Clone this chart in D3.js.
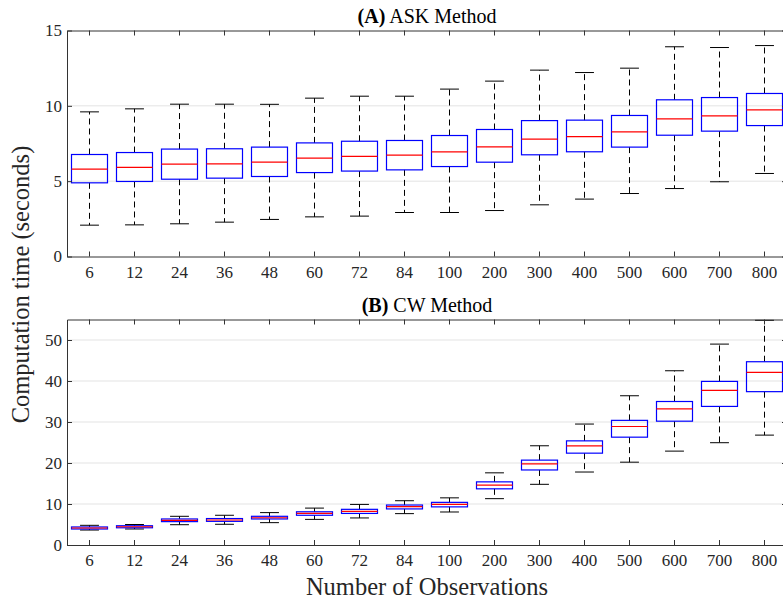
<!DOCTYPE html>
<html>
<head>
<meta charset="utf-8">
<script src="https://cdn.jsdelivr.net/npm/d3@7"></script>
<style>
  body { margin: 0; background: #fff; }
  svg { display: block; font-family: "Liberation Serif", "Times New Roman", serif; }
</style>
</head>
<body>
<div id="wrapper"></div>
<script>
// number of observations (x categories)
const categories = ["6", "12", "24", "36", "48", "60", "72", "84", "100", "200", "300", "400", "500", "600", "700", "800"];

// (A) ASK method - whisker ends, quartiles, median (seconds)
const askLow  = [2.08, 2.10, 2.17, 2.28, 2.46, 2.63, 2.68, 2.92, 2.92, 3.05, 3.43, 3.81, 4.18, 4.51, 4.96, 5.51];
const askQ1   = [4.89, 4.98, 5.13, 5.20, 5.31, 5.57, 5.67, 5.75, 5.97, 6.26, 6.75, 6.95, 7.26, 8.05, 8.32, 8.69];
const askMed  = [5.80, 5.91, 6.13, 6.15, 6.26, 6.53, 6.64, 6.73, 6.95, 7.28, 7.79, 7.96, 8.27, 9.14, 9.34, 9.73];
const askQ3   = [6.77, 6.90, 7.13, 7.15, 7.26, 7.54, 7.65, 7.70, 8.03, 8.43, 9.02, 9.05, 9.36, 10.40, 10.55, 10.82];
const askHigh = [9.60, 9.80, 10.11, 10.11, 10.10, 10.51, 10.64, 10.64, 11.11, 11.64, 12.37, 12.21, 12.50, 13.92, 13.87, 14.00];

// (B) CW method
const cwLow  = [3.65, 3.90, 4.95, 5.05, 5.45, 6.25, 6.60, 7.65, 8.05, 11.3, 14.8, 17.8, 20.2, 22.9, 24.95, 26.8];
const cwQ1   = [3.90, 4.20, 5.70, 5.77, 6.35, 7.25, 7.70, 8.80, 9.30, 13.7, 18.3, 22.4, 26.3, 30.2, 33.8, 37.4];
const cwMed  = [4.15, 4.45, 6.00, 6.10, 6.65, 7.70, 8.20, 9.35, 9.90, 14.6, 19.8, 24.2, 28.9, 33.2, 37.7, 42.1];
const cwQ3   = [4.40, 4.70, 6.35, 6.45, 7.00, 8.10, 8.70, 9.75, 10.4, 15.4, 20.7, 25.4, 30.4, 35.0, 39.9, 44.7];
const cwHigh = [4.80, 5.00, 7.00, 7.25, 7.90, 9.00, 9.90, 10.8, 11.5, 17.6, 24.2, 29.5, 36.4, 42.5, 49.0, 54.8];

const askTicks = [0, 5, 10, 15];
const cwTicks = [0, 10, 20, 30, 40, 50];

const dimensions = { width: 783, height: 604 };
const axisColor = "#333333";

const svg = d3.select("#wrapper")
    .append("svg")
    .attr("width", dimensions.width)
    .attr("height", dimensions.height);

// shared x scale (axes box goes a bit past the right edge, like the original)
const xScale = d3.scaleBand()
    .domain(categories)
    .range([67, 787])
    .padding(0);

function drawPanel(opts) {
    const { top, bottom, domain, ticks, low, q1, med, q3, high, label, title } = opts;
    const yScale = d3.scaleLinear().domain(domain).range([bottom, top]);
    const g = svg.append("g");

    // grid
    g.append("g").selectAll("line")
        .data(ticks.filter(t => t > domain[0] && t < domain[1]))
        .join("line")
        .attr("x1", xScale.range()[0]).attr("x2", xScale.range()[1])
        .attr("y1", d => yScale(d)).attr("y2", d => yScale(d))
        .attr("stroke", "#e3e3e3")
        .attr("stroke-width", 1);

    const rows = categories.map((c, i) => ({ c, low: low[i], q1: q1[i], med: med[i], q3: q3[i], high: high[i] }));
    const bw = xScale.bandwidth();
    const cx = d => xScale(d.c) + bw / 2;
    const boxW = bw * 0.8;
    const capW = bw * 0.42;

    const boxes = g.append("g").selectAll("g").data(rows).join("g");

    // dashed whiskers
    boxes.append("line")
        .attr("x1", cx).attr("x2", cx)
        .attr("y1", d => yScale(d.q3)).attr("y2", d => yScale(d.high))
        .attr("stroke", "#000").attr("stroke-dasharray", "6,4");
    boxes.append("line")
        .attr("x1", cx).attr("x2", cx)
        .attr("y1", d => yScale(d.q1)).attr("y2", d => yScale(d.low))
        .attr("stroke", "#000").attr("stroke-dasharray", "6,4");

    // caps
    boxes.append("line")
        .attr("x1", d => cx(d) - capW / 2).attr("x2", d => cx(d) + capW / 2)
        .attr("y1", d => yScale(d.high)).attr("y2", d => yScale(d.high))
        .attr("stroke", "#000");
    boxes.append("line")
        .attr("x1", d => cx(d) - capW / 2).attr("x2", d => cx(d) + capW / 2)
        .attr("y1", d => yScale(d.low)).attr("y2", d => yScale(d.low))
        .attr("stroke", "#000");

    // box
    boxes.append("rect")
        .attr("x", d => cx(d) - boxW / 2)
        .attr("width", boxW)
        .attr("y", d => yScale(d.q3))
        .attr("height", d => yScale(d.q1) - yScale(d.q3))
        .attr("fill", "none")
        .attr("stroke", "#0000ff")
        .attr("stroke-width", 1.2);

    // median
    boxes.append("line")
        .attr("x1", d => cx(d) - boxW / 2).attr("x2", d => cx(d) + boxW / 2)
        .attr("y1", d => yScale(d.med)).attr("y2", d => yScale(d.med))
        .attr("stroke", "#ff0000")
        .attr("stroke-width", 1.2);

    // axes (ticks point inward, box on all four sides)
    g.append("g")
        .attr("transform", `translate(0,${bottom})`)
        .call(d3.axisBottom(xScale).tickSizeInner(-5).tickSizeOuter(0).tickPadding(9));
    g.append("g")
        .attr("transform", `translate(0,${top})`)
        .call(d3.axisTop(xScale).tickSizeInner(-5).tickSizeOuter(0).tickFormat(""));
    g.append("g")
        .attr("transform", `translate(${xScale.range()[0]},0)`)
        .call(d3.axisLeft(yScale).tickValues(ticks).tickSizeInner(-5).tickSizeOuter(0).tickPadding(5));
    g.append("g")
        .attr("transform", `translate(${xScale.range()[1]},0)`)
        .call(d3.axisRight(yScale).tickValues(ticks).tickSizeInner(-5).tickSizeOuter(0).tickFormat(""));

    g.selectAll(".domain").attr("stroke", axisColor);
    g.selectAll(".tick line").attr("stroke", axisColor);
    g.selectAll(".tick text")
        .attr("fill", "#262626")
        .style("font-family", "Liberation Serif, serif")
        .style("font-size", "17px");

    // title
    const t = g.append("text")
        .attr("x", (xScale.range()[0] + xScale.range()[1]) / 2)
        .attr("y", top - 8)
        .attr("text-anchor", "middle")
        .attr("fill", "#000")
        .style("font-size", "20px");
    t.append("tspan").attr("font-weight", "bold").text(label);
    t.append("tspan").text(" " + title);
}

drawPanel({
    top: 30.5, bottom: 256.5, domain: [0, 15], ticks: askTicks,
    low: askLow, q1: askQ1, med: askMed, q3: askQ3, high: askHigh,
    label: "(A)", title: "ASK Method"
});

drawPanel({
    top: 319.5, bottom: 545, domain: [0, 55], ticks: cwTicks,
    low: cwLow, q1: cwQ1, med: cwMed, q3: cwQ3, high: cwHigh,
    label: "(B)", title: "CW Method"
});

// shared axis labels
svg.append("text")
    .attr("x", 427)
    .attr("y", 595)
    .attr("text-anchor", "middle")
    .attr("fill", "#262626")
    .style("font-size", "24.5px")
    .text("Number of Observations");

svg.append("text")
    .attr("transform", "translate(29,284.5) rotate(-90)")
    .attr("text-anchor", "middle")
    .attr("fill", "#262626")
    .style("font-size", "24.5px")
    .text("Computation time (seconds)");
</script>
</body>
</html>
